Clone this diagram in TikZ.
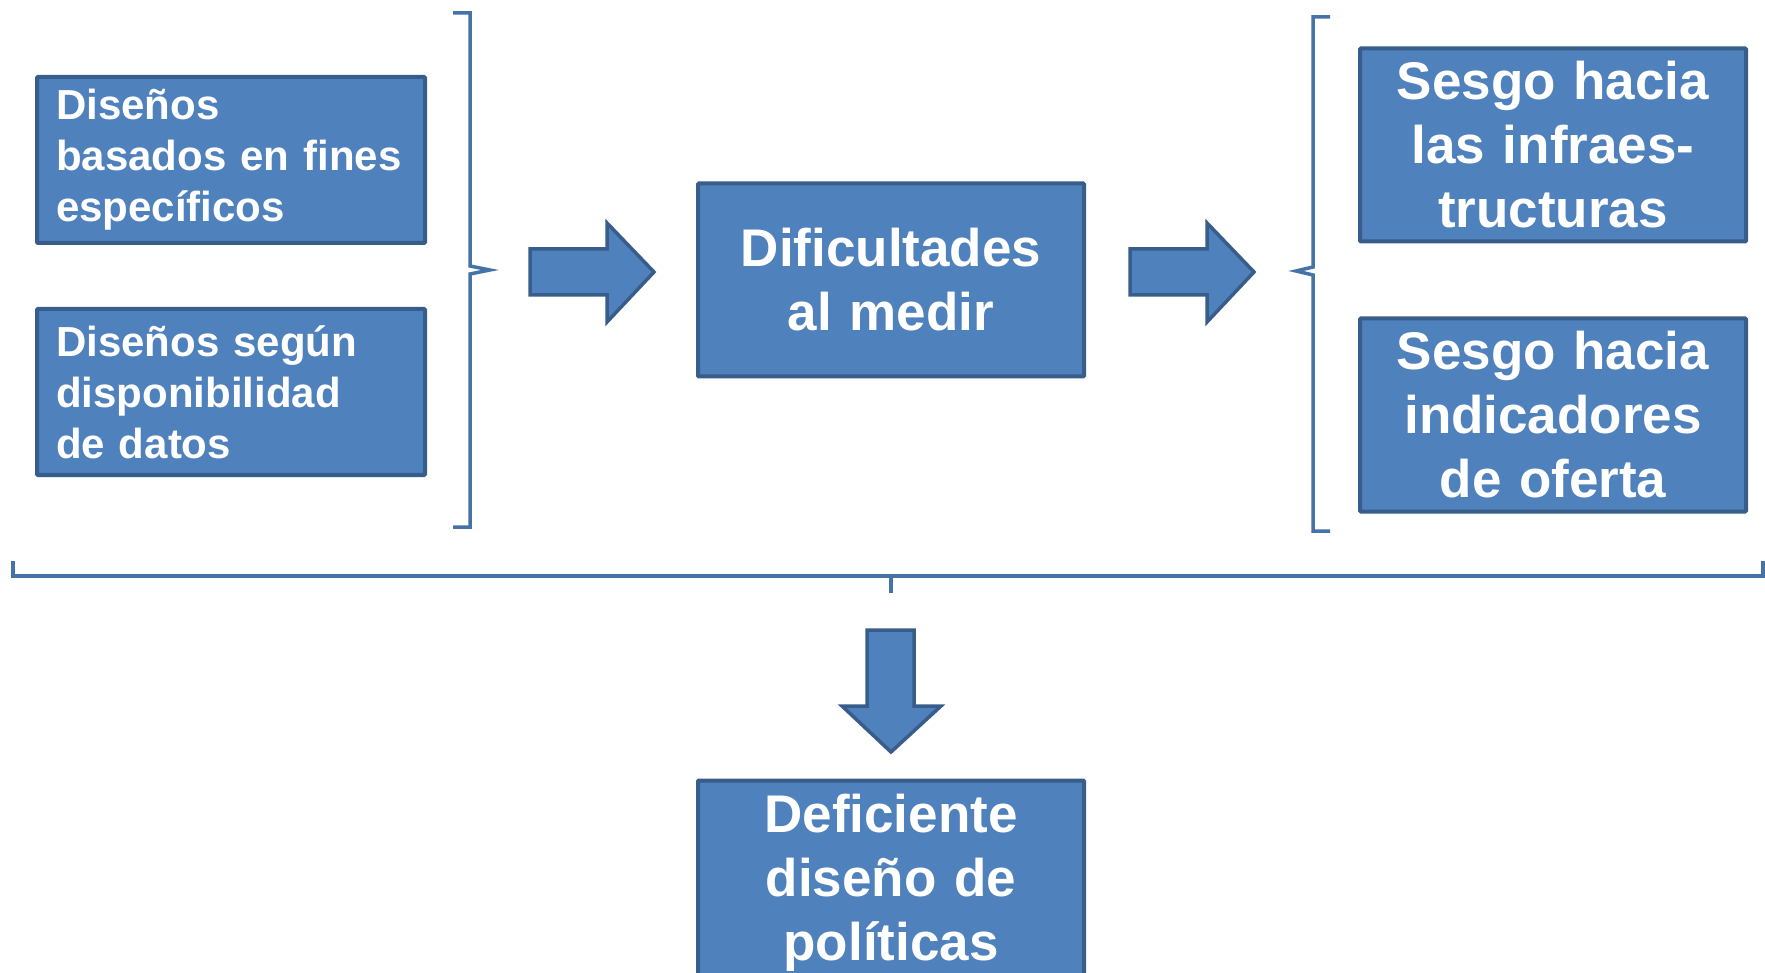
\documentclass[tikz,border=0pt]{standalone}
\usepackage{fontspec}
\setmainfont{Liberation Sans}
\usepackage{tikz}

\definecolor{boxfill}{RGB}{79,129,189}
\definecolor{boxline}{RGB}{56,93,138}
\definecolor{bracecol}{RGB}{69,114,167}

\tikzset{
  box/.style={draw=boxline, fill=boxfill, line width=4pt, text=white, inner sep=0pt, rounded corners=1pt},
  smallbox/.style={box, minimum width=388pt, text width=350pt, align=left,
    font=\fontsize{42}{51}\selectfont\bfseries},
  bigbox/.style={box, minimum width=386pt, text width=370pt, align=center,
    font=\fontsize{53}{64}\selectfont\bfseries},
  bracket/.style={draw=bracecol, line width=3.5pt},
  blockarrow/.style={draw=boxline, fill=boxfill, line width=3.5pt, line join=miter}
}

\begin{document}
\begin{tikzpicture}[x=1pt,y=-1pt]
  \useasboundingbox (0,0) rectangle (1765,973);

  % left column
  \node[smallbox, minimum height=166pt] (fines) at (231,160) {Diseños\\basados en fines\\específicos};
  \node[smallbox, minimum height=166pt] (datos) at (231,392) {Diseños según\\disponibilidad\\de datos};

  % centre
  \node[bigbox, minimum height=193pt] (medir) at (891,280) {Dificultades\\al medir};

  % right column
  \node[bigbox, minimum height=193pt] (infra) at (1553,145) {Sesgo hacia\\las infraes-\\tructuras};
  \node[bigbox, minimum height=193pt] (oferta) at (1553,415) {Sesgo hacia\\indicadores\\de oferta};

  % bottom
  \node[bigbox, minimum height=205pt] (politicas) at (891,883) {Deficiente\\diseño de\\políticas};

  % brackets
  \draw[bracket] (453,13) -- (470,13) -- (470,266) -- (490,270) -- (470,274) -- (470,527) -- (453,527);
  \draw[bracket] (1330,17) -- (1313,17) -- (1313,267) -- (1296,271) -- (1313,275) -- (1313,531) -- (1330,531);
  \draw[bracket, line width=4.5pt] (13,561) -- (13,576) -- (1763,576) -- (1763,561);
  \draw[bracket] (891,576) -- (891,593);

  % block arrows
  \draw[blockarrow] (530,249) -- (607,249) -- (607,223) -- (654,272) -- (607,322) -- (607,295) -- (530,295) -- cycle;
  \draw[blockarrow] (1130,249) -- (1207,249) -- (1207,223) -- (1254,272) -- (1207,322) -- (1207,295) -- (1130,295) -- cycle;
  \draw[blockarrow] (867,630) -- (914,630) -- (914,706) -- (941,706) -- (891,752) -- (842,706) -- (867,706) -- cycle;
\end{tikzpicture}
\end{document}
